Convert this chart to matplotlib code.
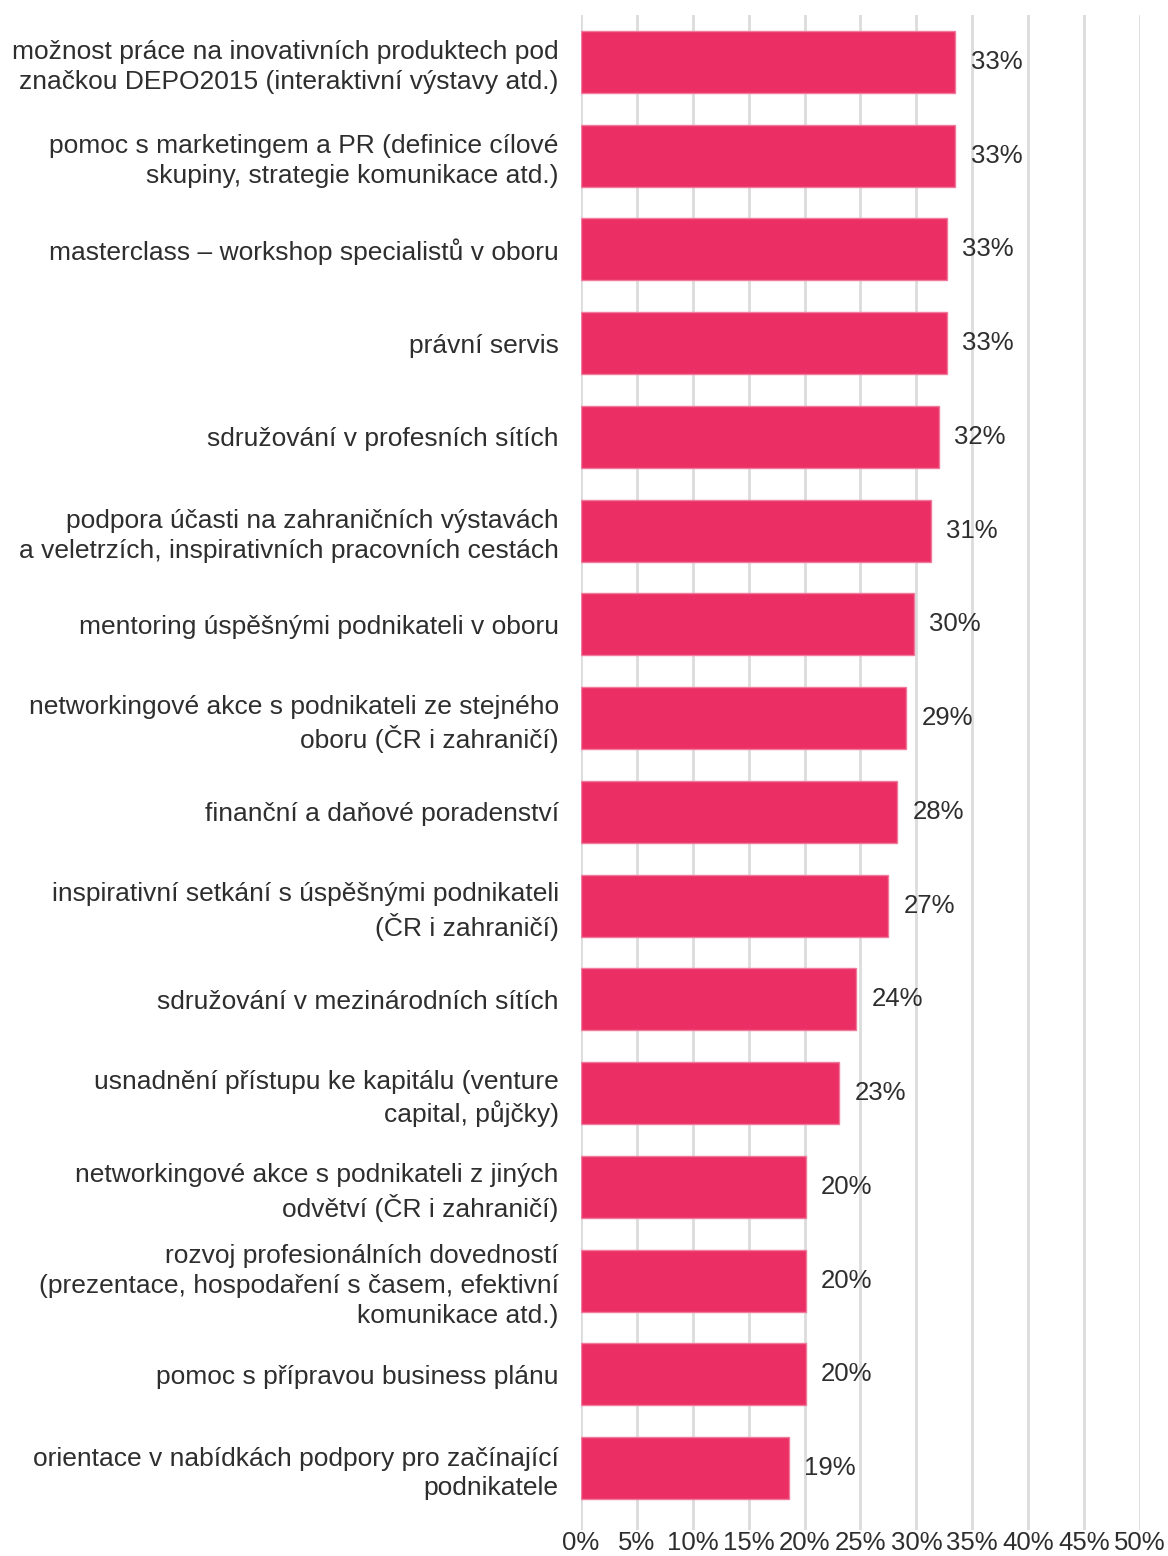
import matplotlib
matplotlib.use("Agg")
from matplotlib import pyplot as plt

categories = [
    "možnost práce na inovativních produktech pod\nznačkou DEPO2015 (interaktivní výstavy atd.)",
    "pomoc s marketingem a PR (definice cílové\nskupiny, strategie komunikace atd.)",
    "masterclass – workshop specialistů v oboru",
    "právní servis",
    "sdružování v profesních sítích",
    "podpora účasti na zahraničních výstavách\na veletrzích, inspirativních pracovních cestách",
    "mentoring úspěšnými podnikateli v oboru",
    "networkingové akce s podnikateli ze stejného\noboru (ČR i zahraničí)",
    "finanční a daňové poradenství",
    "inspirativní setkání s úspěšnými podnikateli\n(ČR i zahraničí)",
    "sdružování v mezinárodních sítích",
    "usnadnění přístupu ke kapitálu (venture\ncapital, půjčky)",
    "networkingové akce s podnikateli z jiných\nodvětví (ČR i zahraničí)",
    "rozvoj profesionálních dovedností\n(prezentace, hospodaření s časem, efektivní\nkomunikace atd.)",
    "pomoc s přípravou business plánu",
    "orientace v nabídkách podpory pro začínající\npodnikatele",
]
values = [33.5, 33.5, 32.7, 32.7, 32.0, 31.3, 29.8, 29.1,
          28.3, 27.5, 24.6, 23.1, 20.1, 20.1, 20.1, 18.6]
value_labels = ["33%", "33%", "33%", "33%", "32%", "31%", "30%", "29%",
                "28%", "27%", "24%", "23%", "20%", "20%", "20%", "19%"]
x_ticks = [0, 5, 10, 15, 20, 25, 30, 35, 40, 45, 50]

plt.rcParams['font.family'] = ['Liberation Sans', 'DejaVu Sans']
text_color = '#2e2e2e'

fig = plt.figure(figsize=(11.68, 15.56), dpi=100)
ax = fig.add_axes([0.4974, 0.0167, 0.4786, 0.9737])

pos = list(range(len(categories)))
ax.barh(pos, values, height=0.66, color='#EB2F65', edgecolor='#F07A9B',
        linewidth=1, zorder=3)

# percentage labels next to each bar
for y, v, lab in zip(pos, values, value_labels):
    ax.annotate(lab, xy=(v, y), xytext=(11, 0), textcoords='offset points',
                va='center', ha='left', fontsize=18.5, color=text_color)

ax.set_xlim(0, 50)
ax.set_ylim(15.66, -0.5)
ax.set_xticks(x_ticks)
ax.set_xticklabels([f"{t}%" for t in x_ticks])
ax.set_yticks(pos)
ax.set_yticklabels(categories, linespacing=1.3)
ax.tick_params(axis='y', length=0, pad=16, labelsize=19, labelcolor=text_color)
ax.tick_params(axis='x', length=0, pad=1, labelsize=18.5, labelcolor=text_color)
ax.grid(axis='x', color='#dcdcdc', linewidth=2, zorder=0)
for s in ax.spines.values():
    s.set_visible(False)

fig.savefig("out.png", dpi=100)
